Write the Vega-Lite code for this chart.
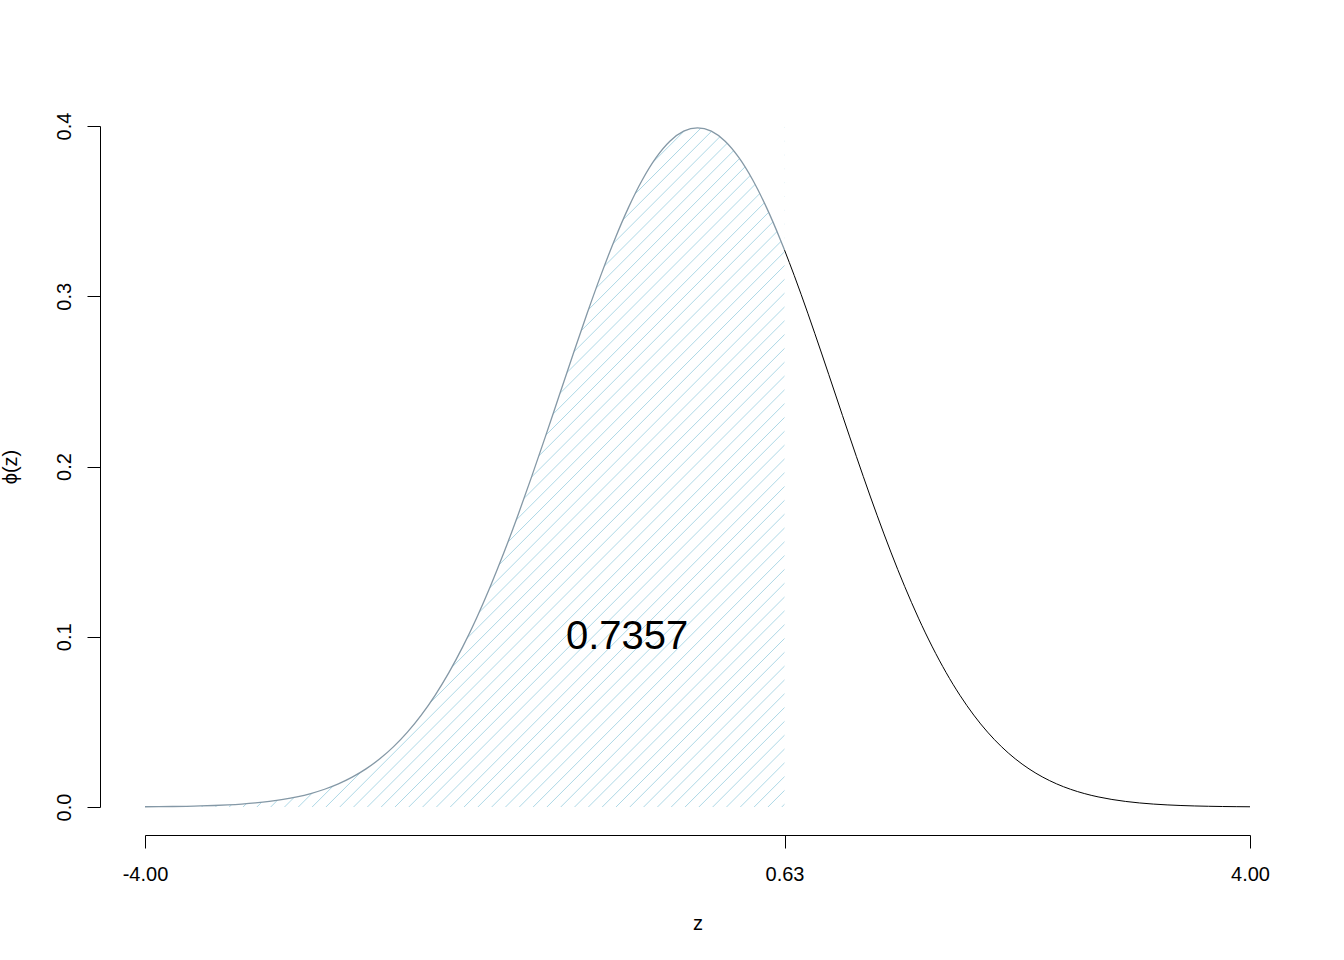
{
  "$schema": "https://vega.github.io/schema/vega-lite/v6.json",
  "width": 1105,
  "height": 681,
  "autosize": {"type": "none"},
  "padding": {"left": 145, "top": 126, "right": 94, "bottom": 153},
  "background": "white",
  "config": {
    "view": {"stroke": null},
    "axis": {
      "grid": false,
      "domainColor": "black",
      "domainWidth": 1,
      "tickColor": "black",
      "tickWidth": 1,
      "labelColor": "black",
      "titleColor": "black",
      "labelFont": "Liberation Sans",
      "titleFont": "Liberation Sans",
      "labelFontSize": 20,
      "titleFontSize": 20,
      "titleFontWeight": "normal"
    }
  },
  "datasets": {
    "curve": [
      {"z": -4.0, "phi": 0.000134}, {"z": -3.9, "phi": 0.000199}, {"z": -3.8, "phi": 0.000292}, {"z": -3.7, "phi": 0.000425},
      {"z": -3.6, "phi": 0.000612}, {"z": -3.5, "phi": 0.000873}, {"z": -3.4, "phi": 0.001232}, {"z": -3.3, "phi": 0.001723},
      {"z": -3.2, "phi": 0.002384}, {"z": -3.1, "phi": 0.003267}, {"z": -3.0, "phi": 0.004432}, {"z": -2.9, "phi": 0.005953},
      {"z": -2.8, "phi": 0.007915}, {"z": -2.7, "phi": 0.010421}, {"z": -2.6, "phi": 0.013583}, {"z": -2.5, "phi": 0.017528},
      {"z": -2.4, "phi": 0.022395}, {"z": -2.3, "phi": 0.028327}, {"z": -2.2, "phi": 0.035475}, {"z": -2.1, "phi": 0.043984},
      {"z": -2.0, "phi": 0.053991}, {"z": -1.9, "phi": 0.065616}, {"z": -1.8, "phi": 0.07895}, {"z": -1.7, "phi": 0.094049},
      {"z": -1.6, "phi": 0.110921}, {"z": -1.5, "phi": 0.129518}, {"z": -1.4, "phi": 0.149727}, {"z": -1.3, "phi": 0.171369},
      {"z": -1.2, "phi": 0.194186}, {"z": -1.1, "phi": 0.217852}, {"z": -1.0, "phi": 0.241971}, {"z": -0.9, "phi": 0.266085},
      {"z": -0.8, "phi": 0.289692}, {"z": -0.7, "phi": 0.312254}, {"z": -0.6, "phi": 0.333225}, {"z": -0.5, "phi": 0.352065},
      {"z": -0.4, "phi": 0.36827}, {"z": -0.3, "phi": 0.381388}, {"z": -0.2, "phi": 0.391043}, {"z": -0.1, "phi": 0.396953},
      {"z": 0.0, "phi": 0.398942}, {"z": 0.1, "phi": 0.396953}, {"z": 0.2, "phi": 0.391043}, {"z": 0.3, "phi": 0.381388},
      {"z": 0.4, "phi": 0.36827}, {"z": 0.5, "phi": 0.352065}, {"z": 0.6, "phi": 0.333225}, {"z": 0.63, "phi": 0.327133},
      {"z": 0.7, "phi": 0.312254}, {"z": 0.8, "phi": 0.289692}, {"z": 0.9, "phi": 0.266085}, {"z": 1.0, "phi": 0.241971},
      {"z": 1.1, "phi": 0.217852}, {"z": 1.2, "phi": 0.194186}, {"z": 1.3, "phi": 0.171369}, {"z": 1.4, "phi": 0.149727},
      {"z": 1.5, "phi": 0.129518}, {"z": 1.6, "phi": 0.110921}, {"z": 1.7, "phi": 0.094049}, {"z": 1.8, "phi": 0.07895},
      {"z": 1.9, "phi": 0.065616}, {"z": 2.0, "phi": 0.053991}, {"z": 2.1, "phi": 0.043984}, {"z": 2.2, "phi": 0.035475},
      {"z": 2.3, "phi": 0.028327}, {"z": 2.4, "phi": 0.022395}, {"z": 2.5, "phi": 0.017528}, {"z": 2.6, "phi": 0.013583},
      {"z": 2.7, "phi": 0.010421}, {"z": 2.8, "phi": 0.007915}, {"z": 2.9, "phi": 0.005953}, {"z": 3.0, "phi": 0.004432},
      {"z": 3.1, "phi": 0.003267}, {"z": 3.2, "phi": 0.002384}, {"z": 3.3, "phi": 0.001723}, {"z": 3.4, "phi": 0.001232},
      {"z": 3.5, "phi": 0.000873}, {"z": 3.6, "phi": 0.000612}, {"z": 3.7, "phi": 0.000425}, {"z": 3.8, "phi": 0.000292},
      {"z": 3.9, "phi": 0.000199}, {"z": 4.0, "phi": 0.000134}
    ],
    "hatch": [
      {"x0": 0.61, "x1": 5.54}, {"x0": 0.51, "x1": 5.44}, {"x0": 0.41, "x1": 5.34}, {"x0": 0.31, "x1": 5.24},
      {"x0": 0.21, "x1": 5.14}, {"x0": 0.11, "x1": 5.04}, {"x0": 0.01, "x1": 4.94}, {"x0": -0.09, "x1": 4.84},
      {"x0": -0.19, "x1": 4.74}, {"x0": -0.29, "x1": 4.64}, {"x0": -0.39, "x1": 4.54}, {"x0": -0.49, "x1": 4.44},
      {"x0": -0.59, "x1": 4.34}, {"x0": -0.69, "x1": 4.24}, {"x0": -0.79, "x1": 4.14}, {"x0": -0.89, "x1": 4.04},
      {"x0": -0.99, "x1": 3.94}, {"x0": -1.09, "x1": 3.84}, {"x0": -1.19, "x1": 3.74}, {"x0": -1.29, "x1": 3.64},
      {"x0": -1.39, "x1": 3.54}, {"x0": -1.49, "x1": 3.44}, {"x0": -1.59, "x1": 3.34}, {"x0": -1.69, "x1": 3.24},
      {"x0": -1.79, "x1": 3.14}, {"x0": -1.89, "x1": 3.04}, {"x0": -1.99, "x1": 2.94}, {"x0": -2.09, "x1": 2.84},
      {"x0": -2.19, "x1": 2.74}, {"x0": -2.29, "x1": 2.64}, {"x0": -2.39, "x1": 2.54}, {"x0": -2.49, "x1": 2.44},
      {"x0": -2.59, "x1": 2.34}, {"x0": -2.69, "x1": 2.24}, {"x0": -2.79, "x1": 2.14}, {"x0": -2.89, "x1": 2.04},
      {"x0": -2.99, "x1": 1.94}, {"x0": -3.09, "x1": 1.84}, {"x0": -3.19, "x1": 1.74}, {"x0": -3.29, "x1": 1.64},
      {"x0": -3.39, "x1": 1.54}, {"x0": -3.49, "x1": 1.44}, {"x0": -3.59, "x1": 1.34}, {"x0": -3.69, "x1": 1.24},
      {"x0": -3.79, "x1": 1.14}, {"x0": -3.89, "x1": 1.04}, {"x0": -3.99, "x1": 0.94}, {"x0": -4.09, "x1": 0.84},
      {"x0": -4.19, "x1": 0.74}, {"x0": -4.29, "x1": 0.64}, {"x0": -4.39, "x1": 0.54}, {"x0": -4.49, "x1": 0.44},
      {"x0": -4.59, "x1": 0.34}, {"x0": -4.69, "x1": 0.24}, {"x0": -4.79, "x1": 0.14}, {"x0": -4.89, "x1": 0.04},
      {"x0": -4.99, "x1": -0.06}
    ]
  },
  "layer": [
    {
      "data": {"name": "hatch"},
      "mark": {"type": "rule", "clip": true, "stroke": "#add8e6", "strokeWidth": 1},
      "encoding": {
        "x": {
          "field": "x0", "type": "quantitative",
          "scale": {"domain": [-4, 4], "nice": false, "zero": false},
          "axis": {
            "orient": "bottom", "offset": 28, "values": [-4, 0.63, 4], "tickSize": 13,
            "labelExpr": "datum.value < 0 ? '-' + format(-datum.value, '.2f') : format(datum.value, '.2f')",
            "labelBaseline": "alphabetic", "labelPadding": 32, "labelFlush": false, "labelOverlap": false, "labelBound": false,
            "title": "z", "titlePadding": 29
          }
        },
        "x2": {"field": "x1"},
        "y": {
          "datum": 0, "type": "quantitative",
          "scale": {"domain": [0, 0.4], "nice": false, "zero": false},
          "axis": {
            "orient": "left", "offset": 45, "values": [0, 0.1, 0.2, 0.3, 0.4], "tickSize": 13, "format": ".1f",
            "labelAngle": -90, "labelAlign": "center", "labelBaseline": "alphabetic", "labelPadding": 17,
            "labelOverlap": false, "labelBound": false, "labelFlush": false,
            "title": "ϕ(z)", "titlePadding": 34
          }
        },
        "y2": {"datum": 0.4}
      }
    },
    {
      "data": {"name": "curve"},
      "transform": [{"filter": "datum.z <= 0.63"}],
      "mark": {"type": "area", "color": "white", "opacity": 1, "interpolate": "monotone"},
      "encoding": {
        "x": {"field": "z", "type": "quantitative"},
        "y": {"field": "phi", "type": "quantitative"},
        "y2": {"datum": 0.4}
      }
    },
    {
      "data": {"values": [{"a": 0.63, "b": 4.2}]},
      "mark": {"type": "rect", "color": "white", "clip": true},
      "encoding": {
        "x": {"field": "a", "type": "quantitative"},
        "x2": {"field": "b"},
        "y": {"datum": -0.01, "type": "quantitative"},
        "y2": {"datum": 0.41}
      }
    },
    {
      "data": {"name": "curve"},
      "transform": [{"filter": "datum.z >= 0.63"}],
      "mark": {"type": "line", "color": "black", "strokeWidth": 1, "interpolate": "monotone"},
      "encoding": {
        "x": {"field": "z", "type": "quantitative"},
        "y": {"field": "phi", "type": "quantitative"}
      }
    },
    {
      "data": {"name": "curve"},
      "transform": [{"filter": "datum.z <= 0.63"}],
      "mark": {"type": "line", "color": "#8498a6", "strokeWidth": 1.3, "interpolate": "monotone"},
      "encoding": {
        "x": {"field": "z", "type": "quantitative"},
        "y": {"field": "phi", "type": "quantitative"}
      }
    },
    {
      "data": {"values": [{"zx": -0.51, "py": 0.1, "label": "0.7357"}]},
      "mark": {"type": "text", "font": "Liberation Sans", "fontSize": 40, "align": "center", "baseline": "middle", "color": "black"},
      "encoding": {
        "x": {"field": "zx", "type": "quantitative"},
        "y": {"field": "py", "type": "quantitative"},
        "text": {"field": "label"}
      }
    }
  ]
}
